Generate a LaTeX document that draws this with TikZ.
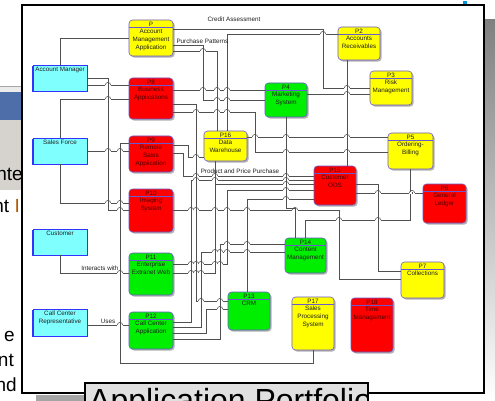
\documentclass[tikz,border=0pt]{standalone}
\usepackage{fontspec}
\setmainfont{Liberation Sans}
\usetikzlibrary{shadows}
\definecolor{pborder}{HTML}{6A5ACD}
\definecolor{pyellow}{HTML}{FFFF00}
\definecolor{pred}{HTML}{FF0000}
\definecolor{pgreen}{HTML}{00EE00}
\definecolor{acyan}{HTML}{80FFFF}
\definecolor{aborder}{HTML}{3333FF}
\definecolor{lnk}{HTML}{505050}
\definecolor{winblue}{HTML}{4E6EAA}
\definecolor{wingrey}{HTML}{D6D3CE}
\definecolor{shade}{HTML}{808080}
\definecolor{redtext}{HTML}{4A0000}
\definecolor{darktext}{HTML}{202020}

\newcommand{\procbox}[9]{%
  \node[proc, fill=#6, minimum width=#4pt, minimum height=#5pt] (#1) at (#2,#3) {};
  \draw[hdrline] ([yshift=-8pt]#1.north west) -- ([yshift=-8pt]#1.north east);
  \node[ptxt, text=#7] (#1-id) at ([yshift=-4.3pt]#1.north) {#8};
  \node[ptxt, text=#7, anchor=north] (#1-txt) at ([yshift=-9.3pt]#1.north) {#9};
}
\newcommand{\actorbox}[5]{%
  \node[actor, minimum width=54pt, minimum height=#4pt] (#1) at (#2,#3) {};
  \node[ptxt, anchor=north] (#1-txt) at ([yshift=-2pt]#1.north) {#5};
}
% line jump of a horizontal connector over a vertical one
\newcommand{\hop}[2]{%
  \fill[white] (#1-2.7,#2-0.7) rectangle (#1+2.7,#2+0.7);
  \draw[conn] (#1,#2-1.2) -- (#1,#2+1.2);
  \draw[conn] (#1-2.7,#2) .. controls (#1-2.7,#2-3.4) and (#1+2.7,#2-3.4) .. (#1+2.7,#2);
}

\begin{document}
\begin{tikzpicture}[x=1pt,y=-1pt,
  proc/.style={draw=pborder, line width=0.6pt, rounded corners=3.5pt, inner sep=0pt,
    drop shadow={shadow xshift=1.6pt, shadow yshift=-1.6pt, fill=black!30, opacity=1}},
  actor/.style={draw=aborder, fill=acyan, line width=0.6pt, inner sep=0pt,
    drop shadow={shadow xshift=-1.3pt, shadow yshift=-1.3pt, fill=aborder, opacity=1}},
  hdrline/.style={draw=pborder, line width=0.5pt},
  ptxt/.style={font=\fontsize{6.3}{8}\selectfont, align=center, inner sep=0pt, text=darktext},
  conn/.style={draw=lnk, line width=0.55pt},
  lbl/.style={font=\fontsize{6.3}{7}\selectfont, inner sep=0.3pt, text=darktext},
  side/.style={font=\fontsize{19}{19}\selectfont, inner sep=0pt, anchor=base east}
]
\useasboundingbox (0,0) rectangle (495,401);
\clip (0,0) rectangle (495,401);
\fill[white] (0,0) rectangle (495,401);

% window background on the left
\fill[black!35] (0,86) rectangle (22,87.5);
\fill[black!8] (0,87.5) rectangle (22,92);
\fill[winblue] (0,92) rectangle (22,120);
\fill[wingrey] (0,120) rectangle (22,190);
\node[side] (s1) at (23,180) {nte};
\node[side] (s2) at (20,212) {nt \textcolor{orange!70!black}{I}};
\node[side] (s3) at (15,341) {e};
\node[side] (s4) at (14,366) {nt};
\node[side] (s5) at (17,391) {nd};

% shadows and frame
\fill[shade] (485,20) rectangle (495,401);
\fill[black!35] (36,395) rectangle (86,401);
\fill[cyan!80!blue] (463,1) rectangle (467,5);
\draw[line width=2pt, fill=white] (22,5) rectangle (484,393);

% process boxes
\procbox{pP}{151}{38}{44}{36}{pyellow}{darktext}{P}{Account\\Management\\Application}
\procbox{pP2}{359}{43.5}{42}{33}{pyellow}{darktext}{P2}{Accounts\\Receivables}
\procbox{pP3}{391}{88}{42}{34}{pyellow}{darktext}{P3}{Risk\\Management}
\procbox{pP4}{286}{100}{42}{34}{pgreen}{darktext}{P4}{Marketing\\System}
\procbox{pP5}{410.5}{151}{45}{36}{pyellow}{darktext}{P5}{Ordering-\\Billing}
\procbox{pP6}{444.5}{203.5}{43}{39}{pred}{redtext}{P6}{General\\Ledger}
\procbox{pP7}{422.5}{280}{43}{36}{pyellow}{darktext}{P7}{Collections}
\procbox{pP8}{151}{98.5}{44}{41}{pred}{redtext}{P8}{Business\\Applications}
\procbox{pP9}{151}{154}{44}{36}{pred}{redtext}{P9}{Remote\\Sales\\Application}
\procbox{pP10}{151}{210.5}{44}{43}{pred}{redtext}{P10}{Imaging\\System}
\procbox{pP11}{151}{274}{44}{42}{pgreen}{darktext}{P11}{Enterprise\\Extranet Web}
\procbox{pP12}{151}{330.5}{44}{37}{pgreen}{darktext}{P12}{Call Center\\Application}
\procbox{pP13}{249}{311}{42}{38}{pgreen}{darktext}{P13}{CRM}
\procbox{pP14}{305.5}{255.5}{41}{35}{pgreen}{darktext}{P14}{Content\\Management}
\procbox{pP15}{335}{185.5}{42}{39}{pred}{redtext}{P15}{Customer\\ODS}
\procbox{pP16}{225.5}{146}{43}{30}{pyellow}{darktext}{P16}{Data\\Warehouse}
\procbox{pP17}{313}{323.5}{42}{53}{pyellow}{darktext}{P17}{Sales\\Processing\\System}
\procbox{pP18}{372}{325}{42}{54}{pred}{redtext}{P18}{Time\\Management}

% actors
\actorbox{aAM}{60}{78}{26}{Account Manager}
\actorbox{aSF}{60}{151}{26}{Sales Force}
\actorbox{aCu}{60}{242}{26}{Customer}
\actorbox{aCC}{60}{322.5}{27}{Call Center\\Representative}

% connectors from the actors
\draw[conn] (aAM.north) |- (pP.west |- 0,38);
\draw[conn] (aAM.east |- 0,78) -| (108,210) -- (pP10.west |- 0,210);
\draw[conn] (aAM.east |- 0,85) -- (pP8.west |- 0,85);
\draw[conn] (aSF.north) |- (pP8.west |- 0,99);
\draw[conn] (aSF.east |- 0,151) -- (pP9.west |- 0,151);
\draw[conn] (aSF.south) |- (pP10.west |- 0,203);
\draw[conn] (aCu.south) |- (pP11.west |- 0,273);
\draw[conn] (aCC.east |- 0,325) -- (pP12.west |- 0,325);
\draw[conn] (pP17.south) |- (120,363) |- (pP9.west |- 0,143);

% connectors between the applications
\draw[conn] (pP.east |- 0,29) -| (323,88) -- (pP3.west |- 0,88);
\draw[conn] (pP.east |- 0,45) -| (203,100) -- (pP4.west |- 0,100);
\draw[conn] (pP.east |- 0,51) -| (pP16.north -| 217,0);
\draw[conn] (pP16.north -| 227,0) |- (pP2.west |- 0,34);
\draw[conn] (pP8.east |- 0,90) -- (pP4.west |- 0,90);
\draw[conn] (pP4.east |- 0,94) -- (pP3.west |- 0,94);
\draw[conn] (pP2.south -| 347,0) -- (pP15.north -| 347,0);
\draw[conn] (pP16.east |- 0,137) -- (pP5.west |- 0,137);
\draw[conn] (pP8.east |- 0,112) -| (255,152) -- (pP5.west |- 0,152);
\draw[conn] (pP4.south) |- (295,208) -- (pP14.north -| 295,0);
\draw[conn] (pP5.south) |- (305,220) -- (pP14.north -| 305,0);
\draw[conn] (pP15.east |- 0,184) -| (378,271) -- (pP7.west |- 0,271);
\draw[conn] (pP10.east |- 0,210) -| (339,279) -- (pP7.west |- 0,279);
\draw[conn] (pP15.east |- 0,193) -- (pP6.west |- 0,193);
\draw[conn] (pP9.east |- 0,153) -| (183,176) -- (pP15.west |- 0,176);
\draw[conn] (pP9.east |- 0,145) -| (188,157) -- (pP16.west |- 0,157);
\draw[conn] (pP8.east |- 0,104) -| (196,301) -- (pP13.west |- 0,301);
\draw[conn] (pP16.south -| 215,0) |- (pP15.west |- 0,184);
\draw[conn] (pP11.east |- 0,273) -| (pP16.south -| 215,0);
\draw[conn] (pP11.east |- 0,264) -| (227,190) -- (pP15.west |- 0,190);
\draw[conn] (pP15.west |- 0,199) -| (pP13.north -| 247,0);
\draw[conn] (pP12.east |- 0,322) -| (191,180) -- (pP15.west |- 0,180);
\draw[conn] (pP12.east |- 0,327) -| (201,252) -- (pP14.west |- 0,252);
\draw[conn] (pP12.east |- 0,333) -| (206,309) -- (pP13.west |- 0,309);
\draw[conn] (pP12.east |- 0,339) -| (220,244) -- (pP14.west |- 0,244);

% line jumps where connectors cross
\foreach \hx/\hy in {108/85,108/99,108/151,120/151,108/203,120/203,120/210,120/273,120/325,
  323/34,203/51,203/90,217/90,227/90,217/100,227/100,347/88,347/94,
  196/112,217/112,227/112,255/137,286/137,347/137,286/152,347/152,
  196/157,196/176,215/176,286/176,196/180,215/180,286/180,286/184,286/190,286/199,
  191/210,196/210,215/210,227/210,247/210,295/210,378/193,412/193,378/220,339/220,
  227/244,247/244,215/252,220/252,227/252,247/252,
  191/264,196/264,201/264,215/264,220/264,191/273,196/273,201/273,201/301,220/301,220/309}
  {\hop{\hx}{\hy}}

% connector labels
\node[lbl] (lCA) at (234,19) {Credit Assessment};
\node[lbl, anchor=west] (lPP) at (176,41) {Purchase Patterns};
\node[lbl] (lPPP) at (240,171.5) {Product and Price Purchase};
\node[lbl, anchor=east] (lIW) at (119,268) {Interacts with};
\node[lbl] (lU) at (108,321) {Uses};

% title tab
\draw[fill=black!12, line width=1.2pt] (85,383) rectangle (368,420);
\begin{scope}
  \clip (85.6,383.6) rectangle (367.4,420);
  \node[font=\fontsize{32}{32}\selectfont, anchor=base west, inner sep=0pt] (title) at (89,411) {Application Portfolio};
\end{scope}
\end{tikzpicture}
\end{document}
